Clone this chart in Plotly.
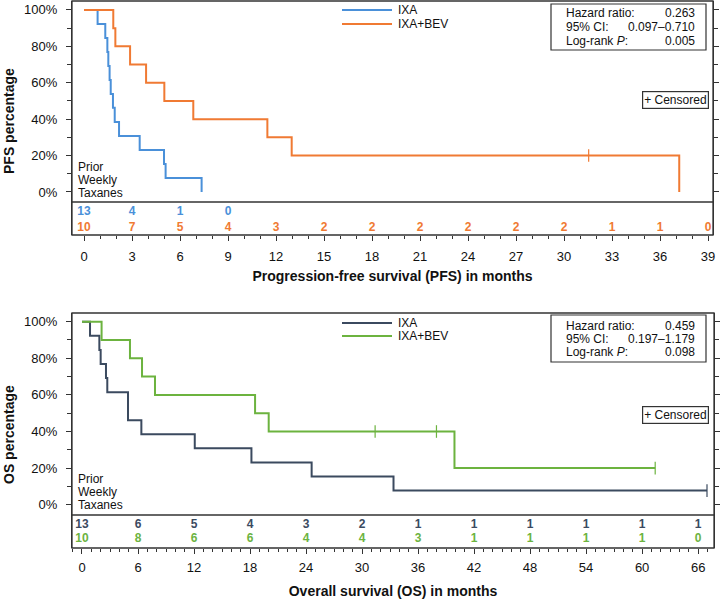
import plotly.graph_objects as go

# ---------------- data ----------------
# PFS, IXA (n=13)
pfs_ixa_t = [0, 0.85, 1.33, 1.46, 1.52, 1.60, 1.67, 1.81, 1.92, 2.19, 3.48, 5.00, 5.10, 7.35]
pfs_ixa_s = [100, 92.3, 84.6, 76.9, 69.2, 61.5, 53.8, 46.2, 38.5, 30.8, 23.1, 15.4, 7.7, 0]
# PFS, IXA+BEV (n=10)
pfs_bev_t = [0, 1.83, 1.96, 2.88, 3.88, 5.02, 6.83, 11.46, 12.98, 37.2]
pfs_bev_s = [100, 90, 80, 70, 60, 50, 40, 30, 20, 0]
pfs_bev_cens_t = [31.54]
pfs_bev_cens_s = [20]

# OS, IXA
os_ixa_t = [0, 0.86, 1.86, 2.00, 2.57, 2.71, 4.93, 6.36, 12.08, 18.15, 24.6, 33.37, 66.95]
os_ixa_s = [100, 92.3, 84.6, 76.9, 69.2, 61.5, 46.2, 38.5, 30.8, 23.1, 15.4, 7.7, 7.7]
os_ixa_cens_t = [66.95]
os_ixa_cens_s = [7.7]
# OS, IXA+BEV
os_bev_t = [0, 2.10, 5.14, 6.43, 7.82, 18.54, 20.0, 39.9, 61.4]
os_bev_s = [100, 90, 80, 70, 60, 50, 40, 20, 20]
os_bev_cens_t = [31.4, 37.97, 61.4]
os_bev_cens_s = [40, 40, 20]

# numbers at risk
pfs_risk_x_ixa = [0, 3, 6, 9]
pfs_risk_ixa = [13, 4, 1, 0]
pfs_risk_x_bev = [0, 3, 6, 9, 12, 15, 18, 21, 24, 27, 30, 33, 36, 39]
pfs_risk_bev = [10, 7, 5, 4, 3, 2, 2, 2, 2, 2, 2, 1, 1, 0]
os_risk_x = [0, 6, 12, 18, 24, 30, 36, 42, 48, 54, 60, 66]
os_risk_ixa = [13, 6, 5, 4, 3, 2, 1, 1, 1, 1, 1, 1]
os_risk_bev = [10, 8, 6, 6, 4, 4, 3, 1, 1, 1, 1, 0]

y_tick_vals = [0, 20, 40, 60, 80, 100]
y_tick_text = ["0%", "20%", "40%", "60%", "80%", "100%"]

series_names = ["IXA", "IXA+BEV"]
pfs_stats = [("Hazard ratio:", "0.263"), ("95% CI:", "0.097\u20130.710"), ("Log-rank <i>P</i>:", "0.005")]
os_stats = [("Hazard ratio:", "0.459"), ("95% CI:", "0.197\u20131.179"), ("Log-rank <i>P</i>:", "0.098")]

# ---------------- style ----------------
C_BLUE = "#4a90d9"
C_ORANGE = "#f07a33"
C_NAVY = "#3b4a5f"
C_GREEN = "#6cb33f"
FRAME = "#333333"
FONT = "Liberation Sans, Arial, Helvetica, sans-serif"
W, H = 720, 600


def px(v):
    return v / W


def py(v):
    return 1 - v / H


fig = go.Figure()


def curve(x, y, color, xa, ya):
    fig.add_trace(go.Scatter(x=x, y=y, mode="lines", line=dict(color=color, width=2, shape="hv"),
                             xaxis=xa, yaxis=ya, showlegend=False, hoverinfo="skip"))


def cens(x, y, color, xa, ya):
    fig.add_trace(go.Scatter(x=x, y=y, mode="markers",
                             marker=dict(symbol="line-ns-open", size=9, color=color,
                                         line=dict(color=color, width=1.2)),
                             xaxis=xa, yaxis=ya, showlegend=False, hoverinfo="skip"))


def risk(x, vals, row, color, xa, ya):
    fig.add_trace(go.Scatter(x=x, y=[row] * len(x), mode="text", text=[str(v) for v in vals],
                             textfont=dict(color=color, size=12, family=FONT, weight="bold"),
                             xaxis=xa, yaxis=ya, showlegend=False, hoverinfo="skip"))


# top panel: PFS
curve(pfs_ixa_t, pfs_ixa_s, C_BLUE, "x", "y")
curve(pfs_bev_t, pfs_bev_s, C_ORANGE, "x", "y")
cens(pfs_bev_cens_t, pfs_bev_cens_s, C_ORANGE, "x", "y")
risk(pfs_risk_x_ixa, pfs_risk_ixa, 1, C_BLUE, "x", "y2")
risk(pfs_risk_x_bev, pfs_risk_bev, 0, C_ORANGE, "x", "y2")

# bottom panel: OS
curve(os_ixa_t, os_ixa_s, C_NAVY, "x2", "y3")
curve(os_bev_t, os_bev_s, C_GREEN, "x2", "y3")
cens(os_ixa_cens_t, os_ixa_cens_s, C_NAVY, "x2", "y3")
cens(os_bev_cens_t, os_bev_cens_s, C_GREEN, "x2", "y3")
risk(os_risk_x, os_risk_ixa, 1, C_NAVY, "x2", "y4")
risk(os_risk_x, os_risk_bev, 0, C_GREEN, "x2", "y4")

tickfont = dict(family=FONT, size=13, color="#111111")
titlefont = dict(family=FONT, size=14, color="#111111", weight="bold")

xcommon = dict(showgrid=False, zeroline=False, showline=False, ticks="outside", ticklen=5,
               tickcolor=FRAME, tickwidth=1.2, tickfont=tickfont,
               fixedrange=True, automargin=False)
ycommon = dict(showgrid=False, zeroline=False, showline=True, linecolor=FRAME, linewidth=1.3,
               mirror="ticks", ticks="outside", ticklen=5, tickcolor=FRAME, tickwidth=1.2,
               tickmode="array", tickvals=y_tick_vals, ticktext=y_tick_text, tickfont=tickfont,
               ticklabelstandoff=6, automargin=False,
               minor=dict(dtick=10, tick0=0, ticks="outside", ticklen=4, tickcolor=FRAME, tickwidth=1),
               fixedrange=True)
rcommon = dict(showgrid=False, zeroline=False, showline=True, linecolor=FRAME, linewidth=1.3,
               mirror=True, showticklabels=False, ticks="", fixedrange=True, automargin=False)

fig.update_layout(
    width=W, height=H, margin=dict(l=0, r=0, t=0, b=0, autoexpand=False),
    paper_bgcolor="white", plot_bgcolor="white", showlegend=False,
    font=dict(family=FONT, size=12, color="#111111"),
    xaxis=dict(xcommon, domain=[px(72), px(713)], range=[-0.75, 39.31], anchor="y2",
               tick0=0, dtick=3, ticklabelstandoff=4,
               minor=dict(dtick=1, tick0=0, ticks="outside", ticklen=3, tickcolor=FRAME, tickwidth=1),
               title=dict(text="Progression-free survival (PFS) in months", font=titlefont, standoff=8)),
    yaxis=dict(ycommon, domain=[py(202), py(1)], range=[-5.5, 104.9], anchor="x"),
    yaxis2=dict(rcommon, domain=[py(235), py(202)], range=[-0.44, 1.625], anchor="x"),
    xaxis2=dict(xcommon, domain=[px(72), px(714)], range=[-1.07, 67.7], anchor="y4",
                tick0=0, dtick=6, ticklabelstandoff=2,
                minor=dict(dtick=1, tick0=0, ticks="outside", ticklen=3, tickcolor=FRAME, tickwidth=1),
                title=dict(text="Overall survival (OS) in months", font=titlefont, standoff=12)),
    yaxis3=dict(ycommon, domain=[py(515), py(313)], range=[-5.63, 104.75], anchor="x2"),
    yaxis4=dict(rcommon, domain=[py(548), py(515)], range=[-0.62, 1.71], anchor="x2"),
)

shapes = []
annos = []


def frame(x0, x1, y0, ysep, y1):
    shapes.append(dict(type="rect", xref="paper", yref="paper", x0=px(x0), x1=px(x1), y0=py(y1), y1=py(y0),
                       line=dict(color=FRAME, width=1.3)))
    shapes.append(dict(type="line", xref="paper", yref="paper", x0=px(x0), x1=px(x1), y0=py(ysep), y1=py(ysep),
                       line=dict(color=FRAME, width=1.3)))


frame(72, 713, 1, 202, 235)
frame(72, 714, 313, 515, 548)


def legend(colors, ys):
    for name, c, yy in zip(series_names, colors, ys):
        shapes.append(dict(type="line", xref="paper", yref="paper", x0=px(342), x1=px(392), y0=py(yy), y1=py(yy),
                           line=dict(color=c, width=2)))
        annos.append(dict(xref="paper", yref="paper", x=px(396), y=py(yy), text=name, showarrow=False,
                          xanchor="left", yanchor="middle", font=dict(size=12, family=FONT, color="#111111")))


legend([C_BLUE, C_ORANGE], [10, 24])
legend([C_NAVY, C_GREEN], [323, 336])


def statbox(stats, y0, y1, rows):
    shapes.append(dict(type="rect", xref="paper", yref="paper", x0=px(551), x1=px(706), y0=py(y1), y1=py(y0),
                       line=dict(color=FRAME, width=1.2), fillcolor="white", layer="above"))
    for (lab, val), yy in zip(stats, rows):
        annos.append(dict(xref="paper", yref="paper", x=px(564), y=py(yy), text=lab, showarrow=False,
                          xanchor="left", yanchor="middle", font=dict(size=12, family=FONT, color="#111111")))
        annos.append(dict(xref="paper", yref="paper", x=px(697), y=py(yy), text=val, showarrow=False,
                          xanchor="right", yanchor="middle", font=dict(size=12, family=FONT, color="#111111")))


statbox(pfs_stats, 4, 50, [13.5, 27.3, 40.7])
statbox(os_stats, 315, 362, [326, 339, 352])

for yy in (100.5, 414.5):
    annos.append(dict(xref="paper", yref="paper", x=px(709), y=py(yy), text="+ Censored", showarrow=False,
                      xanchor="right", yanchor="middle", bordercolor=FRAME, borderwidth=1.2, borderpad=1,
                      bgcolor="white", font=dict(size=12, family=FONT, color="#111111")))

for words, ys in ((["Prior", "Weekly", "Taxanes"], [166.7, 180, 193.3]),
                  (["Prior", "Weekly", "Taxanes"], [479, 492, 505])):
    for w, yy in zip(words, ys):
        annos.append(dict(xref="paper", yref="paper", x=px(76), y=py(yy), text=w, showarrow=False,
                          xanchor="left", yanchor="middle", font=dict(size=12, family=FONT, color="#111111")))

for text, yy in (("PFS percentage", 121), ("OS percentage", 435)):
    annos.append(dict(xref="paper", yref="paper", x=px(9), y=py(yy), text=text, showarrow=False,
                      textangle=-90, xanchor="center", yanchor="middle", font=titlefont))

fig.update_layout(shapes=shapes, annotations=annos)
fig.write_html("out.html", config={"displayModeBar": False},
               post_script="document.body.style.margin='0';document.documentElement.style.overflow='hidden';")
